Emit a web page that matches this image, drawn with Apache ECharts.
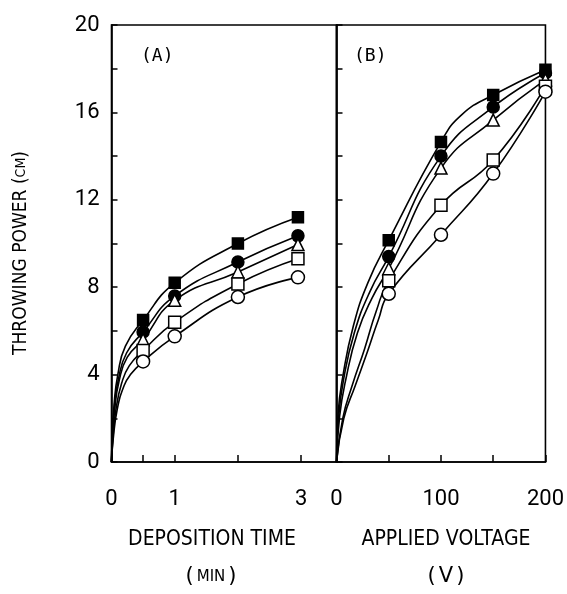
<!DOCTYPE html>
<html><head><meta charset="utf-8">
<script src="https://cdn.jsdelivr.net/npm/echarts@6/dist/echarts.min.js"></script>
<style>html,body{margin:0;padding:0;background:#fff}#c{width:567px;height:594px}</style>
</head><body><div id="c"></div>
<script>
// ---- data ----
const timeX = [0.5, 1, 2, 2.95];          // deposition time (min)
const voltX = [50, 100, 150, 200];        // applied voltage (V)
const yTicks = [0, 4, 8, 12, 16, 20];
const timeTickLabels = [0, 1, 3];
const voltTickLabels = [0, 100, 200];

// Panel A (throwing power, cm)
const aFilledSquare = [6.5, 8.2, 10.0, 11.2];
const aFilledCircle = [5.95, 7.6, 9.15, 10.35];
const aOpenTriangle = [5.6, 7.4, 8.7, 9.95];
const aOpenSquare   = [5.1, 6.4, 8.15, 9.3];
const aOpenCircle   = [4.6, 5.75, 7.55, 8.45];
// curve traces between origin and first marker
const aHeadFilledSquare = [[0,0],[0.01,1.0],[0.04,2.6],[0.1,4.0],[0.22,5.3]];
const aHeadFilledCircle = [[0,0],[0.012,1.0],[0.045,2.5],[0.11,3.8],[0.24,5.0]];
const aHeadOpenTriangle = [[0,0],[0.015,1.0],[0.05,2.4],[0.12,3.7],[0.25,4.8]];
const aHeadOpenSquare   = [[0,0],[0.02,1.0],[0.07,2.4],[0.16,3.6],[0.28,4.4]];
const aHeadOpenCircle   = [[0,0],[0.025,1.0],[0.09,2.4],[0.2,3.5],[0.3,4.0]];

// Panel B
const bFilledSquare = [10.15, 14.65, 16.8, 17.95];
const bFilledCircle = [9.4, 14.0, 16.25, 17.8];
const bOpenTriangle = [8.85, 13.45, 15.65, 17.5];
const bOpenSquare   = [8.3, 11.75, 13.82, 17.2];
const bOpenCircle   = [7.7, 10.4, 13.2, 16.95];
const bHeadFilledSquare = [[0,0],[1.5,2.2],[6,3.9],[16,6.2],[30,8.2]];
const bHeadFilledCircle = [[0,0],[2,2.0],[6.5,3.7],[17,5.9],[32,7.8]];
const bHeadOpenTriangle = [[0,0],[3,2.1],[9,3.8],[20,5.9],[34,7.5]];
const bHeadOpenSquare   = [[0,0],[6,2.0],[15,3.5],[27,5.2],[38,6.9]];
const bHeadOpenCircle   = [[0,0],[7,2.0],[18,3.5],[30,5.1],[40,6.5]];
const bMidFilledSquare  = [[120,15.9]];

// ---- styles ----
const sans = "'DejaVu Sans',sans-serif";
const markers = [
  {symbol:'rect', fill:'#000', size:11},
  {symbol:'circle', fill:'#000', size:12},
  {symbol:'triangle', fill:'#fff', size:12},
  {symbol:'rect', fill:'#fff', size:12},
  {symbol:'circle', fill:'#fff', size:13}
];

function pairs(xs, ys){ return xs.map((x,i)=>[x, ys[i]]); }
function curve(head, xs, ys, mid){
  const pts = head.concat(pairs(xs, ys), mid || []);
  pts.sort((a,b)=>a[0]-b[0]);
  return pts;
}

const panelA = [
  [aHeadFilledSquare, aFilledSquare],
  [aHeadFilledCircle, aFilledCircle],
  [aHeadOpenTriangle, aOpenTriangle],
  [aHeadOpenSquare, aOpenSquare],
  [aHeadOpenCircle, aOpenCircle]
];
const panelB = [
  [bHeadFilledSquare, bFilledSquare, bMidFilledSquare],
  [bHeadFilledCircle, bFilledCircle],
  [bHeadOpenTriangle, bOpenTriangle],
  [bHeadOpenSquare, bOpenSquare],
  [bHeadOpenCircle, bOpenCircle]
];

const series = [];
function addPanel(panel, xs, idx){
  panel.forEach((p, i) => {
    series.push({
      type:'line', xAxisIndex:idx, yAxisIndex:idx,
      data: curve(p[0], xs, p[1], p[2]),
      smooth:0.5, showSymbol:false, symbol:'none',
      lineStyle:{color:'#000', width:1.6}, z:2, clip:false, silent:true
    });
    const m = markers[i];
    series.push({
      type:'scatter', xAxisIndex:idx, yAxisIndex:idx,
      data: pairs(xs, p[1]), symbol:m.symbol, symbolSize:m.size,
      itemStyle:{color:m.fill, borderColor:'#000', borderWidth:1.5, opacity:1},
      z:5, clip:false, silent:true
    });
  });
}
addPanel(panelA, timeX, 0);
addPanel(panelB, voltX, 1);

const yAxisBase = {
  type:'value', min:0, max:20, interval:2,
  axisLine:{show:true, lineStyle:{color:'#000', width:1.6}},
  axisTick:{show:true, inside:true, length:6, lineStyle:{color:'#000', width:1.5}},
  splitLine:{show:false}
};
const tickLabelStyle = {color:'#000', fontFamily:"Roboto,sans-serif", fontSize:22};

const option = {
  backgroundColor:'#fff',
  animation:false,
  grid:[
    {left:111.5, top:25, width:225, height:437, show:true, borderColor:'#000', borderWidth:1.6},
    {left:336.5, top:25, width:219, height:437, show:true, borderColor:'#000', borderWidth:1.6}
  ],
  xAxis:[
    {gridIndex:0, type:'value', min:0, max:3.56,
     axisLine:{show:true, lineStyle:{color:'#000', width:1.6}},
     axisTick:{show:true, inside:true, length:7, customValues:[0.5,1,2,3], lineStyle:{color:'#000', width:1.5}},
     axisLabel:Object.assign({customValues:timeTickLabels, margin:26}, tickLabelStyle),
     splitLine:{show:false}},
    {gridIndex:1, type:'value', min:0, max:200,
     axisLine:{show:true, lineStyle:{color:'#000', width:1.6}},
     axisTick:{show:true, inside:true, length:7, customValues:[50,100,150,200], lineStyle:{color:'#000', width:1.5}},
     axisLabel:Object.assign({customValues:voltTickLabels, margin:26}, tickLabelStyle),
     splitLine:{show:false}}
  ],
  yAxis:[
    Object.assign({gridIndex:0, axisLabel:Object.assign({customValues:yTicks, margin:12}, tickLabelStyle)}, yAxisBase),
    Object.assign({gridIndex:1, axisLabel:{show:false}}, yAxisBase)
  ],
  graphic:[
    {type:'text', left:141, top:47, style:{text:'(A)', font:"18px 'DejaVu Sans Mono', monospace", fill:'#000'}},
    {type:'text', left:354, top:47, style:{text:'(B)', font:"18px 'DejaVu Sans Mono', monospace", fill:'#000'}},
    {type:'text', x:212, y:540, scaleX:0.9, style:{text:'DEPOSITION TIME', font:"21px "+sans, fill:'#000', align:'center', verticalAlign:'middle'}},
    {type:'text', x:211, y:577, style:{text:'{p|(}{s|MIN}{p|)}', fill:'#000', align:'center', verticalAlign:'middle',
      rich:{p:{fontFamily:sans, fontSize:21, padding:[0,3,0,3]}, s:{fontFamily:sans, fontSize:15}}}},
    {type:'text', x:446, y:540, scaleX:0.9, style:{text:'APPLIED VOLTAGE', font:"21px "+sans, fill:'#000', align:'center', verticalAlign:'middle'}},
    {type:'text', x:446, y:577, style:{text:'{p|(}{v|V}{p|)}', fill:'#000', align:'center', verticalAlign:'middle',
      rich:{p:{fontFamily:sans, fontSize:21, padding:[0,3,0,3]}, v:{fontFamily:sans, fontSize:21}}}},
    {type:'text', x:21, y:253, rotation:Math.PI/2, scaleX:0.9, style:{text:'{t|THROWING POWER (}{s|CM}{t|)}', fill:'#000', align:'center', verticalAlign:'middle',
      rich:{t:{fontFamily:sans, fontSize:19}, s:{fontFamily:sans, fontSize:14}}}}
  ],
  series: series
};
const chart = echarts.init(document.getElementById('c'), null, {renderer:'canvas'});
chart.setOption(option);
</script></body></html>
